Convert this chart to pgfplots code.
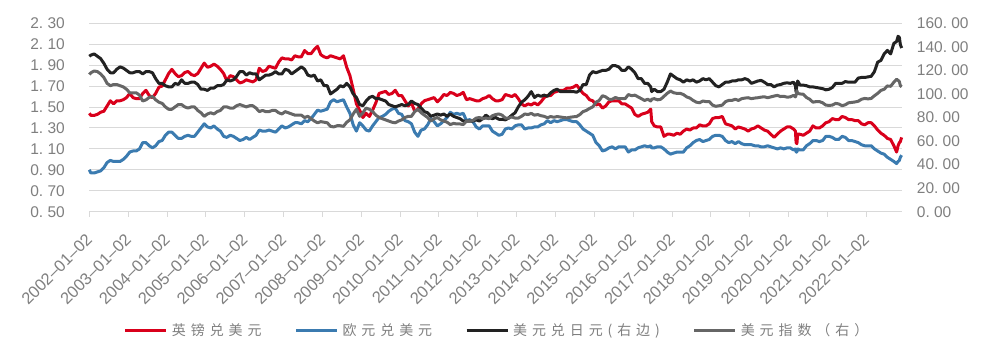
\documentclass[border=0pt]{standalone}
\usepackage{pgfplots}
\pgfplotsset{compat=1.18}
\usepackage{pgfplotstable}
\usepackage{fontspec}
\setmainfont{Liberation Sans}
\newfontfamily\cjk[LetterSpace=35]{Noto Sans CJK SC}
\definecolor{gbpc}{HTML}{D9001B}
\definecolor{eurc}{HTML}{3B7BB0}
\definecolor{jpyc}{HTML}{222222}
\definecolor{dxyc}{HTML}{666666}
\definecolor{gridc}{HTML}{D9D9D9}
\definecolor{txtc}{HTML}{7F7F7F}
\pgfplotstableread{
yr mo gbp eur jpy dxy
2002 0.5 1.44 0.90 132 116.5
2002 1 1.42 0.87 133 118
2002 2 1.42 0.87 134 119.5
2002 3 1.43 0.88 132 119
2002 4 1.45 0.89 130 117
2002 5 1.46 0.92 126 114
2002 6 1.51 0.97 121 109
2002 7 1.56 0.99 118 107
2002 8 1.53 0.98 118 108
2002 9 1.56 0.98 121 108
2002 10 1.56 0.98 123 107
2002 11 1.57 1.00 122 106
2002 12 1.59 1.03 120 104
2003 1 1.63 1.07 118 101
2003 2 1.59 1.08 118 101
2003 3 1.58 1.08 119 101
2003 4 1.58 1.10 119 99
2003 5 1.63 1.16 117 94
2003 6 1.66 1.16 119 95
2003 7 1.61 1.13 119 97
2003 8 1.59 1.11 118 98
2003 9 1.63 1.13 113 95
2003 10 1.69 1.17 109 93
2003 11 1.70 1.18 109 92
2003 12 1.76 1.23 107 89
2004 1 1.82 1.26 106 87
2004 2 1.86 1.26 106 87
2004 3 1.82 1.23 109 89
2004 4 1.79 1.20 108 91
2004 5 1.80 1.20 112 91
2004 6 1.83 1.22 109 89
2004 7 1.84 1.23 109 88
2004 8 1.81 1.22 110 89
2004 9 1.80 1.22 110 89
2004 10 1.82 1.26 108 86
2004 11 1.87 1.30 104 84
2004 12 1.92 1.34 104 81
2005 1 1.88 1.31 103 83
2005 2 1.89 1.30 105 84
2005 3 1.91 1.32 105 83
2005 4 1.89 1.29 107 85
2005 5 1.86 1.27 107 86
2005 6 1.82 1.22 108 89
2005 7 1.75 1.21 112 89
2005 8 1.80 1.23 111 88
2005 9 1.79 1.22 112 88
2005 10 1.76 1.20 115 90
2005 11 1.73 1.18 119 91
2005 12 1.74 1.19 119 90
2006 1 1.76 1.21 116 89
2006 2 1.75 1.19 118 90
2006 3 1.74 1.21 117 90
2006 4 1.76 1.23 117 88
2006 5 1.87 1.28 112 85
2006 6 1.84 1.27 114 86
2006 7 1.85 1.27 116 85
2006 8 1.89 1.28 116 85
2006 9 1.88 1.27 117 86
2006 10 1.87 1.26 119 86
2006 11 1.93 1.29 117 84
2006 12 1.97 1.32 117 83
2007 1 1.96 1.30 121 85
2007 2 1.96 1.31 120 84
2007 3 1.95 1.33 117 83
2007 4 1.99 1.35 119 82
2007 5 1.98 1.35 121 82
2007 6 1.98 1.34 123 82
2007 7 2.04 1.37 121 80
2007 8 2.01 1.36 116 81
2007 9 2.01 1.39 115 79
2007 10 2.05 1.43 116 77
2007 11 2.08 1.47 111 75.5
2007 12 2.00 1.46 112 76.5
2008 1 1.98 1.47 107 76
2008 2 1.97 1.48 107 75.5
2008 3 1.99 1.55 100 72.5
2008 4 1.98 1.57 102 72
2008 5 1.97 1.55 104 73
2008 6 1.96 1.56 107 73
2008 7 1.99 1.57 106 72.5
2008 8 1.88 1.50 109 76
2008 9 1.80 1.44 106 78
2008 10 1.67 1.33 100 83
2008 11 1.53 1.27 97 87
2008 12 1.47 1.35 91 81
2009 1 1.40 1.32 90 84
2009 2 1.44 1.28 94 88
2009 3 1.41 1.27 97 87
2009 4 1.47 1.32 98 85
2009 5 1.54 1.36 96 82
2009 6 1.63 1.40 96 80
2009 7 1.64 1.41 95 79
2009 8 1.65 1.43 94 78
2009 9 1.62 1.46 91 77
2009 10 1.63 1.48 90 76
2009 11 1.66 1.49 89 75.5
2009 12 1.61 1.44 90 77
2010 1 1.61 1.43 91 78
2010 2 1.56 1.37 90 80
2010 3 1.51 1.36 91 81
2010 4 1.54 1.34 94 81
2010 5 1.46 1.26 92 85
2010 6 1.48 1.22 91 87
2010 7 1.53 1.28 88 84
2010 8 1.56 1.29 85 82
2010 9 1.57 1.33 84 80
2010 10 1.58 1.39 81 77
2010 11 1.59 1.36 82 79
2010 12 1.55 1.32 83 80
2011 1 1.58 1.34 82 78
2011 2 1.62 1.37 83 77
2011 3 1.61 1.40 81 76
2011 4 1.64 1.45 83 74
2011 5 1.63 1.43 81 75
2011 6 1.61 1.44 80 74.5
2011 7 1.62 1.43 79 74.5
2011 8 1.64 1.44 77 74
2011 9 1.57 1.37 77 77
2011 10 1.58 1.38 77 77
2011 11 1.57 1.36 77 77.5
2011 12 1.56 1.31 78 79.5
2012 1 1.56 1.29 77 80
2012 2 1.58 1.32 79 79
2012 3 1.59 1.32 82 79.5
2012 4 1.61 1.32 80 79
2012 5 1.58 1.27 79 81.5
2012 6 1.56 1.25 80 82.5
2012 7 1.56 1.23 78.5 83
2012 8 1.57 1.24 78.5 82
2012 9 1.62 1.29 78 79.5
2012 10 1.61 1.30 79.5 79.5
2012 11 1.60 1.29 82 80.5
2012 12 1.62 1.32 84 79.5
2013 1 1.58 1.33 89 79.5
2013 2 1.53 1.33 93 81
2013 3 1.51 1.29 95 83
2013 4 1.53 1.30 98 82.5
2013 5 1.52 1.30 102 83.5
2013 6 1.54 1.31 97 82
2013 7 1.52 1.31 99 82.5
2013 8 1.55 1.33 98 81.5
2013 9 1.59 1.34 99 81
2013 10 1.61 1.37 98 79.8
2013 11 1.61 1.35 101 80.8
2013 12 1.64 1.37 103 80.2
2014 1 1.65 1.36 104 80.8
2014 2 1.66 1.37 102 80.4
2014 3 1.66 1.38 102 80
2014 4 1.68 1.38 102 79.7
2014 5 1.68 1.37 102 80.2
2014 6 1.69 1.36 102 80.6
2014 7 1.71 1.36 101.5 80.8
2014 8 1.67 1.33 103 82.5
2014 9 1.63 1.29 108 85
2014 10 1.61 1.27 108 86
2014 11 1.57 1.25 116 87.7
2014 12 1.56 1.23 119 89
2015 1 1.52 1.16 118 93
2015 2 1.53 1.13 119 94.5
2015 3 1.49 1.08 120 98.5
2015 4 1.51 1.09 120 97.5
2015 5 1.55 1.11 121 95.5
2015 6 1.56 1.12 124 95.5
2015 7 1.56 1.10 124 97
2015 8 1.56 1.12 123 96
2015 9 1.53 1.12 120 96
2015 10 1.53 1.12 120 96
2015 11 1.51 1.07 123 99.5
2015 12 1.49 1.09 121 98.5
2016 1 1.43 1.09 118 99
2016 2 1.41 1.11 113 97.5
2016 3 1.43 1.12 113 96
2016 4 1.44 1.13 109 94.5
2016 5 1.45 1.12 109 95.5
2016 5.9 1.48 1.13 106 94
2016 6.2 1.36 1.11 102 95.5
2016 7 1.32 1.11 104 96
2016 8 1.31 1.12 102 95
2016 9 1.31 1.12 102 95.5
2016 10 1.22 1.10 104 98
2016 11 1.24 1.07 110 100.5
2016 12 1.24 1.05 117 102.5
2017 1 1.23 1.06 115 101
2017 2 1.25 1.07 113 100.5
2017 3 1.24 1.07 112 100.5
2017 4 1.27 1.07 110 99.5
2017 5 1.29 1.11 112 97.5
2017 6 1.28 1.13 111 96.5
2017 7 1.30 1.16 112 94.5
2017 8 1.30 1.18 110 93
2017 9 1.33 1.19 111 92.5
2017 10 1.32 1.17 113 94
2017 11 1.32 1.18 112 93.5
2017 12 1.34 1.19 113 93.5
2018 1 1.39 1.22 110 90.5
2018 2 1.40 1.23 107 89.5
2018 3 1.40 1.23 106 90
2018 4 1.41 1.22 108 90.5
2018 5 1.34 1.18 110 93.5
2018 6 1.33 1.16 110 94.5
2018 7 1.32 1.17 111 94.5
2018 8 1.29 1.15 111 95.5
2018 9 1.31 1.17 112 94.5
2018 10 1.30 1.15 112 96
2018 11 1.29 1.14 113 96.5
2018 12 1.27 1.14 112 96.8
2019 1 1.29 1.14 109 96
2019 2 1.30 1.13 110 96.5
2019 3 1.32 1.13 111 96.8
2019 4 1.30 1.12 111.5 97.3
2019 5 1.28 1.12 110 97.6
2019 6 1.27 1.13 108 96.8
2019 7 1.24 1.12 108 97.5
2019 8 1.21 1.11 106 98.2
2019 9 1.24 1.10 107.5 98.8
2019 10 1.27 1.11 108 97.8
2019 11 1.29 1.10 109 98
2019 12 1.31 1.11 109.5 97.3
2020 1 1.31 1.11 109 97.5
2020 2 1.29 1.09 110 98.8
2020 2.6 1.27 1.10 107 97.5
2020 2.8 1.16 1.07 101.5 99
2020 3.05 1.15 1.07 108 102.8
2020 3.3 1.24 1.10 111 100.5
2020 4 1.24 1.09 107.5 100
2020 5 1.23 1.09 107.5 99.8
2020 6 1.25 1.13 107 97
2020 7 1.27 1.15 106 95.5
2020 8 1.32 1.18 106 93
2020 9 1.30 1.18 105.5 93.5
2020 10 1.30 1.17 105 93.5
2020 11 1.32 1.18 104.5 92.5
2020 12 1.35 1.22 103.5 90.5
2021 1 1.36 1.22 104 90.3
2021 2 1.39 1.21 105.5 90.5
2021 3 1.38 1.19 109 92
2021 4 1.38 1.19 109 91.5
2021 5 1.41 1.22 109 90
2021 6 1.40 1.21 110.5 90.8
2021 7 1.38 1.18 110 92.5
2021 8 1.38 1.18 110 92.8
2021 9 1.37 1.17 110 93.2
2021 10 1.37 1.16 113.5 93.8
2021 11 1.34 1.14 114 95.5
2021 12 1.33 1.13 114 96.2
2022 1 1.35 1.13 114.5 95.8
2022 2 1.35 1.13 115 96.2
2022 3 1.32 1.10 119 98.5
2022 4 1.28 1.08 127 100.5
2022 5 1.25 1.06 128.5 103
2022 6 1.23 1.05 134 104
2022 7 1.20 1.02 137 106.8
2022 8 1.19 1.00 134 106.5
2022 9 1.13 0.98 143 110
2022 9.85 1.07 0.96 144.5 112.5
2022 10.3 1.13 0.98 149 111.5
2022 10.7 1.16 0.99 148 110.5
2022 11 1.17 1.02 142 107
2022 11.4 1.21 1.04 139 106
}\data
\begin{document}
\begin{tikzpicture}[lab/.style={inner sep=0pt, font=\fontsize{15.5}{17}\selectfont, text=txtc}]
\pgfplotsset{
  every axis/.append style={
    at={(0,0)}, anchor=south west, scale only axis,
    width=812.4pt, height=188.4pt,
    xmin=2002, xmax=2022.91, clip=false,
    tick label style={font=\fontsize{15.5}{17}\selectfont, text=txtc},
  }
}
\begin{axis}[
  ymin=0.5, ymax=2.3,
  axis x line*=bottom, axis y line*=left,
  y axis line style={draw=none},
  x axis line style={draw=gridc, line width=1pt, -},
  xtick={2002,2003,...,2022},
  xticklabels={2002--01--02,2003--01--02,2004--01--02,2005--01--02,2006--01--02,2007--01--02,2008--01--02,2009--01--02,2010--01--02,2011--01--02,2012--01--02,2013--01--02,2014--01--02,2015--01--02,2016--01--02,2017--01--02,2018--01--02,2019--01--02,2020--01--02,2021--01--02,2022--01--02},
  tick align=outside, major tick length=5pt,
  xtick style={draw=gridc, line width=1pt},
  ytick style={draw=none},
  ytick={0.5,0.7,0.9,1.1,1.3,1.5,1.7,1.9,2.1,2.3},
  yticklabels={},
  xticklabel style={font=\fontsize{16.5}{18}\selectfont, yshift=-20pt, rotate=45, anchor=east, inner sep=0pt},
  ymajorgrids, major grid style={draw=gridc, line width=1pt},
  legend columns=4,
  legend style={at={(0.502,-0.628)}, anchor=center, draw=none, fill=none,
    font=\cjk\fontsize{14}{16}\selectfont, text=txtc, inner sep=0pt,
    /tikz/every odd column/.append style={column sep=2pt},
    /tikz/every even column/.append style={column sep=31pt}},
  legend image code/.code={\draw[#1, line width=3pt] (0pt,0pt) -- (41pt,0pt);},
  legend cell align=left,
]
\addplot[gbpc, line width=3pt, line join=round] table[x expr=\thisrow{yr}+(\thisrow{mo}-0.5)/12, y=gbp]{\data};
\addlegendentry{英镑兑美元}
\addplot[eurc, line width=3pt, line join=round] table[x expr=\thisrow{yr}+(\thisrow{mo}-0.5)/12, y=eur]{\data};
\addlegendentry{欧元兑美元}
\addlegendimage{jpyc}
\addlegendentry{美元兑日元(右边)}
\addlegendimage{dxyc}
\addlegendentry{美元指数（右）}
\node[lab, anchor=east, xshift=-24.3pt] at (axis cs:2002,0.5) {0.\ 50};
\node[lab, anchor=east, xshift=-24.3pt] at (axis cs:2002,0.7) {0.\ 70};
\node[lab, anchor=east, xshift=-24.3pt] at (axis cs:2002,0.9) {0.\ 90};
\node[lab, anchor=east, xshift=-24.3pt] at (axis cs:2002,1.1) {1.\ 10};
\node[lab, anchor=east, xshift=-24.3pt] at (axis cs:2002,1.3) {1.\ 30};
\node[lab, anchor=east, xshift=-24.3pt] at (axis cs:2002,1.5) {1.\ 50};
\node[lab, anchor=east, xshift=-24.3pt] at (axis cs:2002,1.7) {1.\ 70};
\node[lab, anchor=east, xshift=-24.3pt] at (axis cs:2002,1.9) {1.\ 90};
\node[lab, anchor=east, xshift=-24.3pt] at (axis cs:2002,2.1) {2.\ 10};
\node[lab, anchor=east, xshift=-24.3pt] at (axis cs:2002,2.3) {2.\ 30};
\end{axis}
\begin{axis}[
  ymin=0, ymax=160,
  axis x line=none, axis y line*=right,
  y axis line style={draw=none},
  ytick style={draw=none},
  ytick={0,20,40,60,80,100,120,140,160},
  yticklabels={},
]
\addplot[jpyc, line width=3pt, line join=round] table[x expr=\thisrow{yr}+(\thisrow{mo}-0.5)/12, y=jpy]{\data};
\addplot[dxyc, line width=3pt, line join=round] table[x expr=\thisrow{yr}+(\thisrow{mo}-0.5)/12, y=dxy]{\data};
\node[lab, anchor=west, xshift=15pt] at (axis cs:2022.91,0) {0.\ 00};
\node[lab, anchor=west, xshift=15pt] at (axis cs:2022.91,20) {20.\ 00};
\node[lab, anchor=west, xshift=15pt] at (axis cs:2022.91,40) {40.\ 00};
\node[lab, anchor=west, xshift=15pt] at (axis cs:2022.91,60) {60.\ 00};
\node[lab, anchor=west, xshift=15pt] at (axis cs:2022.91,80) {80.\ 00};
\node[lab, anchor=west, xshift=15pt] at (axis cs:2022.91,100) {100.\ 00};
\node[lab, anchor=west, xshift=15pt] at (axis cs:2022.91,120) {120.\ 00};
\node[lab, anchor=west, xshift=15pt] at (axis cs:2022.91,140) {140.\ 00};
\node[lab, anchor=west, xshift=15pt] at (axis cs:2022.91,160) {160.\ 00};
\end{axis}
\pgfresetboundingbox
\path[use as bounding box] (-89.3pt,-147.3pt) rectangle (905.7pt,211.7pt);
\end{tikzpicture}
\end{document}
